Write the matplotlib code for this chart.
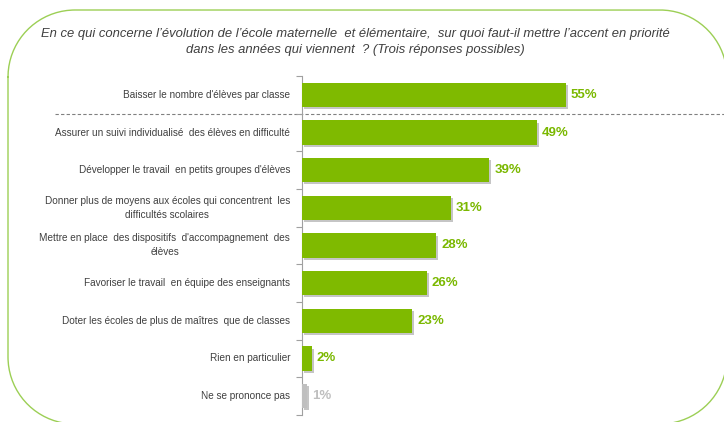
import matplotlib
matplotlib.use("Agg")
import numpy as np
import matplotlib.pyplot as plt
from matplotlib.lines import Line2D
from matplotlib import patheffects as pe
from matplotlib.transforms import blended_transform_factory, IdentityTransform

categories = [
    "Baisser le nombre d'élèves par classe",
    "Assurer un suivi individualisé  des élèves en difficulté",
    "Développer le travail  en petits groupes d'élèves",
    "Donner plus de moyens aux écoles qui concentrent  les\ndifficultés scolaires",
    "Mettre en place  des dispositifs  d'accompagnement  des\nélèves",
    "Favoriser le travail  en équipe des enseignants",
    "Doter les écoles de plus de maîtres  que de classes",
    "Rien en particulier",
    "Ne se prononce pas",
]
values = [55, 49, 39, 31, 28, 26, 23, 2, 1]
labels = ["55%", "49%", "39%", "31%", "28%", "26%", "23%", "2%", "1%"]
title = ("En ce qui concerne l’évolution de l’école maternelle  et élémentaire,  sur quoi faut-il mettre l’accent en priorité\n"
         "dans les années qui viennent  ? (Trois réponses possibles)")

green = "#7FBA00"
grey = "#BFBFBF"
colors = [green] * 8 + [grey]
label_colors = ["#7AB800"] * 8 + ["#BFBFBF"]

plt.rcParams['font.family'] = ['Liberation Sans', 'DejaVu Sans']

W, H = 724, 422
fig = plt.figure(figsize=(W / 100, H / 100), dpi=100)
fig.patch.set_facecolor("white")

# rounded green frame, circular corners, pixel coords (top-left origin, flipped below)
fx0, fx1, fy0, fy1, r = 8, 727, 10, 424, 67
pts = []
def arc(cx, cy, a0, a1):
    t = np.linspace(np.radians(a0), np.radians(a1), 40)
    return list(zip(cx + r * np.cos(t), cy + r * np.sin(t)))
# angles in image coordinates (y down)
pts += arc(fx0 + r, fy0 + r, 180, 270)   # top-left
pts += arc(fx1 - r, fy0 + r, 270, 360)   # top-right
pts += arc(fx1 - r, fy1 - r, 0, 90)      # bottom-right
pts += arc(fx0 + r, fy1 - r, 90, 180)    # bottom-left
pts.append(pts[0])
xs = [p[0] for p in pts]
ys = [H - p[1] for p in pts]
fig.lines.append(Line2D(xs, ys, transform=IdentityTransform(), color="#9CCF55", linewidth=1.0))

fig.text(355 / W, 1 - 42 / H, title, ha="center", va="center", style="italic",
         fontsize=9.4, color="#404040", linespacing=1.4)

ax_left, ax_right = 302, 702
ax_top, ax_bottom = 76, 415
ax = fig.add_axes([ax_left / W, 1 - ax_bottom / H, (ax_right - ax_left) / W, (ax_bottom - ax_top) / H])
px_per_pct = (566 - 302) / 55
ax.set_xlim(0, (ax_right - ax_left) / px_per_pct)
n = len(categories)
ax.set_ylim(n - 0.5, -0.5)

ypos = list(range(n))
bars = ax.barh(ypos, values, height=0.64, color=colors, zorder=3)
for b in bars:
    b.set_path_effects([pe.SimplePatchShadow(offset=(1.5, -1.5), shadow_rgbFace="#808080", alpha=0.45), pe.Normal()])

for y, v, lab, c in zip(ypos, values, labels, label_colors):
    ax.text(v + 5 / px_per_pct, y, lab, ha="left", va="center", fontsize=9.5,
            fontweight="bold", color=c)

ax.set_yticks([])
ax.set_xticks([])
ax.set_yticks([i - 0.5 for i in range(n + 1)], minor=True)
ax.tick_params(axis="y", which="minor", length=4, width=0.8, color="#A0A0A0", direction="out")
for s in ["top", "right", "bottom"]:
    ax.spines[s].set_visible(False)
ax.spines["left"].set_color("#A0A0A0")
ax.spines["left"].set_linewidth(0.8)
ax.patch.set_alpha(0)

for y, cat in zip(ypos, categories):
    ax.text(-12 / px_per_pct, y, cat, ha="right", va="center", multialignment="center",
            fontsize=7.2, color="#404040", linespacing=1.5)

# dashed separator
tr = blended_transform_factory(fig.transFigure, ax.transData)
ax.plot([55 / W, 1.0], [0.5, 0.5], transform=tr, linestyle=(0, (3, 2)), color="#808080",
        linewidth=0.8, clip_on=False, zorder=1)

fig.savefig("out.png", dpi=100)
